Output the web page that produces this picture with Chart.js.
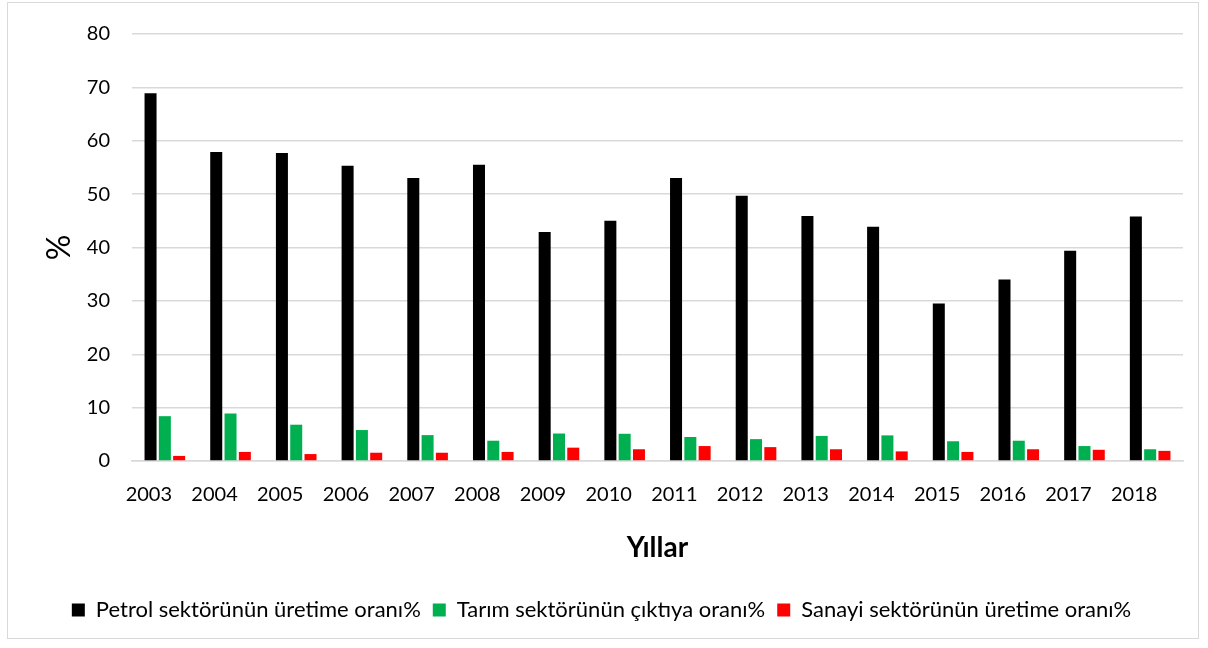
<!DOCTYPE html>
<html>
<head>
<meta charset="utf-8">
<script src="https://cdn.jsdelivr.net/npm/chart.js@4.4.0/dist/chart.umd.min.js"></script>
<style>
  html, body { margin: 0; padding: 0; background: #fff; }
  #frame { position: absolute; left: 7px; top: 2px; width: 1192px; height: 637px; border: 1.5px solid #d9d9d9; box-sizing: border-box; pointer-events: none; }
  #c { position: absolute; left: 0; top: 0; }
</style>
</head>
<body>
<canvas id="c" width="1208" height="648"></canvas>
<div id="frame"></div>
<script>
const years = ["2003","2004","2005","2006","2007","2008","2009","2010","2011","2012","2013","2014","2015","2016","2017","2018"];
const petrol = [68.9, 57.9, 57.7, 55.3, 53.0, 55.5, 42.9, 45.0, 53.0, 49.7, 45.9, 43.9, 29.5, 34.0, 39.4, 45.8];
const tarim = [8.4, 8.9, 6.8, 5.8, 4.85, 3.8, 5.15, 5.1, 4.5, 4.1, 4.7, 4.8, 3.7, 3.8, 2.8, 2.2];
const sanayi = [0.95, 1.7, 1.3, 1.55, 1.55, 1.7, 2.5, 2.2, 2.8, 2.6, 2.2, 1.8, 1.7, 2.2, 2.1, 1.9];
const seriesNames = ["Petrol sektörünün üretime oranı%", "Tarım sektörünün çıktıya oranı%", "Sanayi sektörünün üretime oranı%"];
const yTicks = [0, 10, 20, 30, 40, 50, 60, 70, 80];
const xTitle = "Yıllar";
const yTitle = "%";

const FONT = "Lato, 'Open Sans', sans-serif";
Chart.defaults.font.family = FONT;
Chart.defaults.color = "#000";

new Chart(document.getElementById("c"), {
  type: "bar",
  data: {
    labels: years,
    datasets: [
      { label: seriesNames[0], data: petrol, backgroundColor: "#000000" },
      { label: seriesNames[1], data: tarim, backgroundColor: "#00b050" },
      { label: seriesNames[2], data: sanayi, backgroundColor: "#ff0000" }
    ]
  },
  options: {
    responsive: false,
    animation: false,
    devicePixelRatio: 1,
    categoryPercentage: 0.653,
    barPercentage: 0.84,
    layout: { padding: { left: 20, right: 25, top: 20, bottom: 17 } },
    plugins: {
      tooltip: { enabled: false },
      legend: {
        position: "bottom",
        labels: {
          boxWidth: 13, boxHeight: 13, padding: 12,
          font: { size: 22, family: FONT }, color: "#000"
        }
      }
    },
    scales: {
      x: {
        grid: { display: false, drawTicks: false },
        border: { display: true, color: "#d9d9d9", width: 1.5 },
        ticks: { padding: 22, font: { size: 20 }, color: "#000", labelOffset: -16, maxRotation: 0, autoSkip: false },
        title: { display: true, text: xTitle, font: { size: 28, weight: "bold" }, color: "#000", padding: { top: 0, bottom: 22 } },
        afterFit: (s) => { s.height = 126; }
      },
      y: {
        min: 0, max: 80,
        afterBuildTicks: (s) => { s.ticks = yTicks.map(v => ({ value: v })); },
        grid: { color: "#d9d9d9", lineWidth: 1.5, drawTicks: false },
        border: { display: false },
        ticks: { padding: 22, font: { size: 20 }, color: "#000" },
        title: { display: true, text: yTitle, font: { size: 32 }, color: "#000", padding: { top: 20, bottom: 0 } },
        afterFit: (s) => { s.width = 112; }
      }
    }
  }
});
</script>
</body>
</html>
